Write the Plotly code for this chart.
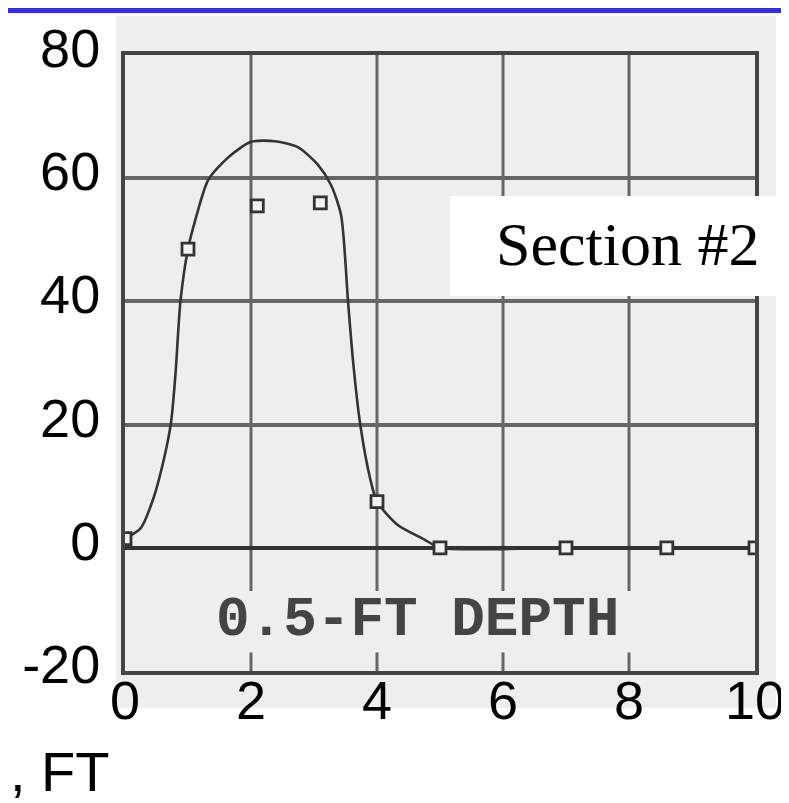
import plotly.graph_objects as go

# ---- data ----
x_ticks = [0, 2, 4, 6, 8, 10]
y_ticks = [-20, 0, 20, 40, 60, 80]
y_tick_text = ["-20", "0", "20", "40", "60", "80"]

# measured points (open squares)
x_points = [0.0, 1.0, 2.1, 3.1, 4.0, 5.0, 7.0, 8.6, 10.0]
y_points = [1.5, 48.5, 55.5, 56.0, 7.5, 0.0, 0.0, 0.0, 0.0]

# hand-drawn fitted curve
x_curve = [0.0, 0.25, 0.45, 0.62, 0.73, 0.8, 0.88, 1.0, 1.11, 1.32, 1.63, 2.0, 2.38,
           2.75, 3.06, 3.27, 3.43, 3.54, 3.62, 3.73, 3.89, 4.0, 4.33, 4.76, 5.0,
           7.0, 8.6, 10.0]
y_curve = [1.5, 3.2, 8.0, 14.5, 20.3, 28.0, 40.0, 48.5, 53.0, 59.7, 63.3, 65.9, 66.0,
           65.0, 62.2, 58.9, 54.0, 40.0, 30.3, 20.3, 11.3, 7.5, 3.7, 1.3, 0.0,
           0.0, 0.0, 0.0]

depth_label = "0.5-FT DEPTH"
section_label = "Section #2"
axis_title_fragment = ", FT"

# ---- layout geometry (pixels) ----
W, H = 789, 803
L, R, T, B = 117, 42, 47, 140
PW, PH = W - L - R, H - T - B

def px(x):
    return (x - L) / PW

def py(y):
    return (H - B - y) / PH

ink = "#333333"
grid = "#666666"
paper_gray = "#eeeeee"

fig = go.Figure()

fig.add_trace(go.Scatter(
    x=x_curve, y=y_curve, mode="lines",
    line=dict(color=ink, width=2.6, shape="spline", smoothing=0.7),
    hoverinfo="skip", showlegend=False))

fig.add_trace(go.Scatter(
    x=x_points, y=y_points, mode="markers",
    marker=dict(symbol="square", size=12, color="#f2f2f2",
                line=dict(color=ink, width=2.8)),
    showlegend=False))

shapes = []
# scanned paper background
shapes.append(dict(type="rect", xref="paper", yref="paper", layer="below",
                   x0=px(108), x1=px(768), y0=py(700), y1=py(8),
                   fillcolor=paper_gray, line=dict(width=0)))
# vertical grid lines, interrupted by the depth caption
for t in x_ticks[1:-1]:
    shapes.append(dict(type="line", xref="x", yref="y", layer="below",
                       x0=t, x1=t, y0=y_ticks[-1], y1=-7,
                       line=dict(color=grid, width=3)))
    shapes.append(dict(type="line", xref="x", yref="y", layer="below",
                       x0=t, x1=t, y0=-17, y1=y_ticks[0],
                       line=dict(color=grid, width=3)))
# white label box
shapes.append(dict(type="rect", xref="paper", yref="paper", layer="above",
                   x0=px(442), x1=px(789), y0=py(288), y1=py(188),
                   fillcolor="white", line=dict(width=0)))
# blue slide bar at top
shapes.append(dict(type="rect", xref="paper", yref="paper", layer="above",
                   x0=px(0), x1=px(W), y0=py(5), y1=py(0),
                   fillcolor="#3333cc", line=dict(width=0)))

annotations = [
    dict(text="<b>" + depth_label + "</b>", x=4.65, y=-11.8, xref="x", yref="y",
         showarrow=False, font=dict(family="Liberation Mono", size=56, color="#444444")),
    dict(text=section_label, x=px(619), y=py(236), xref="paper", yref="paper",
         xanchor="center", yanchor="middle", showarrow=False,
         font=dict(family="Liberation Serif", size=62, color="black")),
    dict(text=axis_title_fragment, x=px(0), y=py(764), xref="paper", yref="paper",
         xanchor="left", yanchor="middle", showarrow=False,
         font=dict(family="Liberation Sans", size=56, color="black")),
]

fig.update_layout(
    width=W, height=H,
    margin=dict(l=L, r=R, t=T, b=B, pad=0),
    paper_bgcolor="white", plot_bgcolor=paper_gray,
    shapes=shapes, annotations=annotations,
    font=dict(family="Liberation Sans", color="black"),
    xaxis=dict(range=[0, 10], tickvals=x_ticks, showgrid=False, zeroline=False,
               showline=True, mirror=True, linecolor="#444444", linewidth=4,
               ticks="", tickfont=dict(size=54), ticklabelstandoff=-21,
               automargin=False),
    yaxis=dict(range=[-20, 80], tickvals=y_ticks, ticktext=y_tick_text,
               showgrid=True, gridcolor=grid,
               gridwidth=3.5, zeroline=True, zerolinecolor=ink, zerolinewidth=3.5,
               showline=True, mirror=True, linecolor="#444444", linewidth=4,
               ticks="", tickfont=dict(size=54), ticklabelstandoff=10,
               ticklabelshift=-7, automargin=False),
)

fig.write_html("out.html")
